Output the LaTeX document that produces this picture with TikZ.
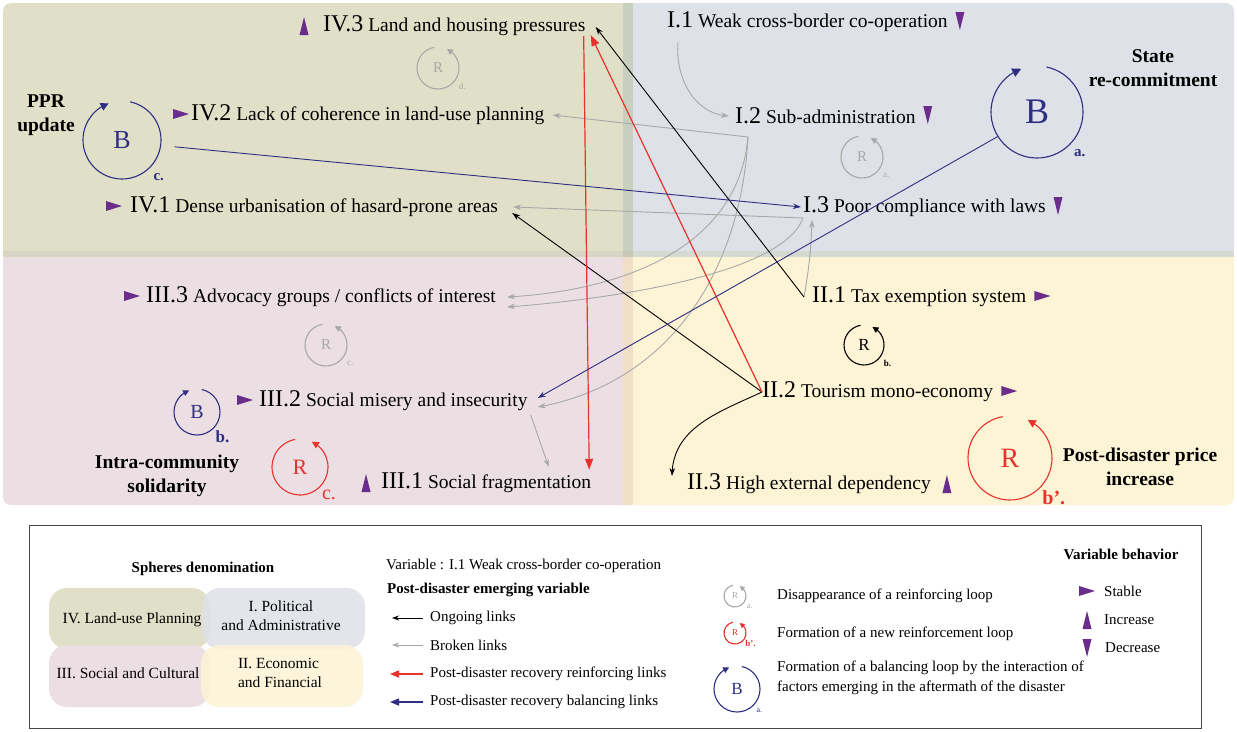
\documentclass[tikz,border=0pt]{standalone}
\usepackage{fontspec}
\setmainfont{Liberation Serif}
\usetikzlibrary{arrows.meta,calc,bending}
\definecolor{olv}{HTML}{E0E0C8}
\definecolor{blg}{HTML}{DEE1E7}
\definecolor{pnk}{HTML}{ECDFE3}
\definecolor{ylw}{HTML}{FDF3D5}
\definecolor{purp}{HTML}{6B2D8B}
\definecolor{navy}{HTML}{2F2E83}
\definecolor{rdl}{HTML}{E8322B}
\definecolor{gryl}{HTML}{A8A8A8}
\newcommand\pre[1]{{\fontsize{24}{24}\selectfont #1}}
\newcommand\Rloop[6]{%
  \node[circle,inner sep=0,minimum size=2*#3,text=#4,font=\fontsize{#5}{#5}\selectfont] (#1) at #2 {R};
  \draw[#4,line width=1.1pt,-{Triangle[length=#6pt,width=#6pt,flex]}] ($(#1)+(100:#3)$) arc[start angle=100,end angle=425,radius=#3];}
\newcommand\Bloop[6]{%
  \node[circle,inner sep=0,minimum size=2*#3,text=#4,font=\fontsize{#5}{#5}\selectfont] (#1) at #2 {B};
  \draw[#4,line width=1.1pt,-{Triangle[length=#6pt,width=#6pt,flex]}] ($(#1)+(78:#3)$) arc[start angle=78,end angle=-250,radius=#3];}
\tikzset{
  var/.style={anchor=west,inner sep=0,font=\fontsize{19.5}{22}\selectfont},
  bold/.style={align=center,inner sep=0,font=\fontsize{19.5}{24}\selectfont\bfseries},
  leg/.style={anchor=west,inner sep=0,font=\fontsize{15}{19.5}\selectfont},
  lnk/.style={line width=0.9pt,-{Stealth[length=8pt,width=5.5pt]}},
  blk/.style={lnk,black},
  grylnk/.style={lnk,gryl},
  rdlnk/.style={line width=1.2pt,rdl,-{Triangle[length=11pt,width=8pt]}},
  blulnk/.style={lnk,navy},
  stab/.pic={\fill[purp] (-8,5)--(8,0)--(-8,-5)--cycle;},
  incr/.pic={\fill[purp] (-4.5,-9)--(0,9)--(4.5,-9)--cycle;},
  decr/.pic={\fill[purp] (-4.5,9)--(0,-9)--(4.5,9)--cycle;},
}
\begin{document}
\begin{tikzpicture}[x=1pt,y=1pt]
\useasboundingbox (0,0) rectangle (1237,-731);
% sphere backgrounds
\fill[olv,rounded corners=8] (3,-3) rectangle (633,-257);
\fill[blg,rounded corners=8] (623,-3) rectangle (1234,-257);
\fill[pnk,rounded corners=8] (3,-251) rectangle (633,-505);
\fill[ylw,rounded corners=8] (623,-251) rectangle (1234,-505);
\fill[color={rgb,255:red,201;green,207;blue,190}] (623,-3) rectangle (633,-251);
\fill[color={rgb,255:red,215;green,213;blue,196}] (3,-251) rectangle (623,-257);
\fill[color={rgb,255:red,214;green,216;blue,210}] (633,-251) rectangle (1234,-257);
\fill[color={rgb,255:red,240;green,222;blue,200}] (623,-257) rectangle (633,-505);
\fill[color={rgb,255:red,200;green,200;blue,185}] (623,-251) rectangle (633,-257);

% variables
\node[var] (v43) at (323,-26) {\pre{IV.3} Land and housing pressures};
\node[var] (v42) at (191,-115) {\pre{IV.2} Lack of coherence in land-use planning};
\node[var] (v41) at (130,-207) {\pre{IV.1} Dense urbanisation of hasard-prone areas};
\node[var] (v11) at (667,-22) {\pre{I.1} Weak cross-border co-operation};
\node[var] (v12) at (735,-116) {\pre{I.2} Sub-administration};
\node[var] (v13) at (803,-207) {\pre{I.3} Poor compliance with laws};
\node[var] (v33) at (146,-297) {\pre{III.3} Advocacy groups / conflicts of interest};
\node[var] (v32) at (259,-401) {\pre{III.2} Social misery and insecurity};
\node[var] (v31) at (381,-483) {\pre{III.1} Social fragmentation};
\node[var] (v21) at (812,-297) {\pre{II.1} Tax exemption system};
\node[var] (v22) at (762,-392) {\pre{II.2} Tourism mono-economy};
\node[var] (v23) at (687,-484) {\pre{II.3} High external dependency};

% behaviour markers
\pic at ($(v43.west)+(-19,0)$) {incr};
\pic at ($(v42.west)+(-10,1)$) {stab};
\pic at ($(v41.west)+(-16,1)$) {stab};
\pic at ($(v11.east)+(12,1)$) {decr};
\pic at ($(v12.east)+(12,1)$) {decr};
\pic at ($(v13.east)+(12,1)$) {decr};
\pic at ($(v33.west)+(-14,1)$) {stab};
\pic at ($(v32.west)+(-14,1)$) {stab};
\pic at ($(v31.west)+(-15,0)$) {incr};
\pic at ($(v21.east)+(16,1)$) {stab};
\pic at ($(v22.east)+(16,1)$) {stab};
\pic at ($(v23.east)+(16,0)$) {incr};

% loops
\Rloop{Rd}{(438,-68)}{21}{gryl}{15}{6}
\node[text=gryl,font=\fontsize{9}{9}\selectfont] at ($(Rd.-40)+(8,-5)$) {d.};
\Bloop{Bc}{(122,-140)}{39}{navy}{26}{8}
\node[text=navy,font=\fontsize{15}{15}\selectfont\bfseries] at ($(Bc.-45)+(9,-9)$) {c.};
\Rloop{Ra}{(862,-157)}{21}{gryl}{15}{6}
\node[text=gryl,font=\fontsize{9}{9}\selectfont] at ($(Ra.-40)+(8,-5)$) {a.};
\Bloop{Ba}{(1037,-112)}{46}{navy}{36}{9}
\node[text=navy,font=\fontsize{15}{15}\selectfont\bfseries] at ($(Ba.-45)+(10,-8)$) {a.};
\Rloop{Rc}{(326,-345)}{21}{gryl}{15}{6}
\node[text=gryl,font=\fontsize{9}{9}\selectfont] at ($(Rc.-40)+(8,-5)$) {c.};
\Bloop{Bb}{(197,-412)}{23}{navy}{20}{6}
\node[text=navy,font=\fontsize{17}{17}\selectfont\bfseries] at ($(Bb.-45)+(9,-8)$) {b.};
\Rloop{Rcr}{(300,-467)}{28}{rdl}{22}{7}
\node[text=rdl,font=\fontsize{20}{20}\selectfont] at ($(Rcr.-45)+(9,-8)$) {c.};
\Rloop{Rb}{(864,-345)}{20}{black}{17}{6}
\node[font=\fontsize{9}{9}\selectfont\bfseries] at ($(Rb.-40)+(8,-5)$) {b.};
\Rloop{Rbp}{(1010,-458)}{42}{rdl}{28}{8}
\node[text=rdl,font=\fontsize{20}{20}\selectfont\bfseries] at ($(Rbp.-45)+(14,-10)$) {b’.};

% loop titles
\node[bold] (tPPR) at (46,-115) {PPR\\update};
\node[bold] (tState) at (1153,-68) {State\\re-commitment};
\node[bold] (tIntra) at (167,-476) {Intra-community\\solidarity};
\node[bold] (tPost) at (1140,-467) {Post-disaster price\\increase};

% broken links
\coordinate (c12) at ($(v12.west)+(13,-21)$);
\coordinate (c13) at ($(v13.west)+(0,-11)$);
\draw[grylnk] ($(v11.south west)+(11,-10)$) to[out=-95,in=178] ($(v12.west)+(-6,0)$);
\draw[grylnk] (c12) -- ($(v42.east)+(8,0)$);
\draw[grylnk] (c12) to[out=-95,in=3] ($(v33.east)+(11,0)$);
\draw[grylnk] (c12) to[out=-93,in=10] ($(v32.east)+(10,-6)$);
\draw[grylnk] (c13) -- ($(v41.east)+(15,0)$);
\draw[grylnk] (c13) to[out=-110,in=4,looseness=0.55] ($(v33.east)+(11,-10)$);
\draw[grylnk] ($(v21.west)+(-8,0)$) to[bend right=4] ($(v13.west)+(9,-13)$);
\draw[grylnk] ($(v32.east)+(3,-14)$) -- ($(v32.east)+(21,-66)$);
% ongoing links
\draw[blk] ($(v21.west)+(-8,0)$) -- ($(v43.east)+(10,-1)$);
\draw[blk] (v22.west) -- ($(v41.east)+(14,-6)$);
\draw[blk] (v22.west) to[out=205,in=90] ($(v23.west)+(-15,8)$);
% reinforcing links
\draw[rdlnk] (v22.west) -- ($(v43.east)+(5,-9)$);
\draw[rdlnk] ($(v43.east)+(-2,-10)$) -- ($(v31.north east)+(-2,3)$);
% balancing links
\draw[blulnk] ($(Bc.-10)+(14,0)$) -- ($(v13.west)+(-2,0)$);
\draw[blulnk] (Ba.212) -- ($(v32.east)+(10,3)$);

% legend
\draw[line width=1pt,color={rgb,255:red,70;green,70;blue,70}] (29,-525) rectangle (1201,-728);
\node[font=\fontsize{15}{17}\selectfont\bfseries] (lSph) at (203,-569) {Spheres denomination};
\fill[olv,rounded corners=18] (49,-588) rectangle (210,-649);
\fill[pnk,rounded corners=18] (49,-645) rectangle (210,-707);
\fill[blg,rounded corners=18,fill opacity=0.85] (202,-588) rectangle (365,-649);
\fill[ylw,rounded corners=18,fill opacity=0.85] (201,-645) rectangle (363,-707);
\node[font=\fontsize{15.5}{18}\selectfont] (sIV) at (132,-620) {IV. Land-use Planning};
\node[font=\fontsize{15.5}{19}\selectfont,align=center] (sI) at (281,-616) {I. Political\\and Administrative};
\node[font=\fontsize{15.5}{18}\selectfont] (sIII) at (128,-673) {III. Social and Cultural};
\node[font=\fontsize{15.5}{19}\selectfont,align=left] (sII) at (280,-673) {II. Economic\\and Financial};

\node[leg] (lVar) at (386,-566) {Variable : I.1 Weak cross-border co-operation};
\node[leg,font=\fontsize{15}{17}\selectfont\bfseries] (lPost) at (387,-590) {Post-disaster emerging variable};
\node[leg] (lOn) at (430,-618) {Ongoing links};
\node[leg] (lBr) at (430,-645) {Broken links};
\node[leg] (lRe) at (430,-674) {Post-disaster recovery reinforcing links};
\node[leg] (lBa) at (430,-702) {Post-disaster recovery balancing links};
\draw[line width=1pt,-{Stealth[length=7pt,width=5pt]}] ($(lOn.west)+(-7,0)$) -- ($(lOn.west)+(-38,0)$);
\draw[line width=1pt,gryl,-{Stealth[length=7pt,width=5pt]}] ($(lBr.west)+(-7,0)$) -- ($(lBr.west)+(-38,0)$);
\draw[line width=1.4pt,rdl,-{Triangle[length=9pt,width=7pt]}] ($(lRe.west)+(-7,0)$) -- ($(lRe.west)+(-40,0)$);
\draw[line width=1.4pt,navy,-{Triangle[length=9pt,width=7pt]}] ($(lBa.west)+(-7,0)$) -- ($(lBa.west)+(-40,0)$);

\Rloop{LRa}{(735,-596)}{11}{gryl}{9}{5}
\node[text=gryl,font=\fontsize{8}{8}\selectfont] at ($(LRa.-40)+(6,-3)$) {a.};
\Rloop{LRb}{(735,-633)}{11}{rdl}{9}{5}
\node[text=rdl,font=\fontsize{9}{9}\selectfont\bfseries] at ($(LRb.-40)+(7,-3)$) {b’.};
\Bloop{LBa}{(737,-689)}{23}{navy}{17}{6}
\node[text=navy,font=\fontsize{8}{8}\selectfont] at ($(LBa.-45)+(6,-5)$) {a.};
\node[leg] (lDis) at (777,-596) {Disappearance of a reinforcing loop};
\node[leg] (lNew) at (777,-634) {Formation of a new reinforcement loop};
\node[leg,align=left] (lBal) at (777,-678) {Formation of a balancing loop by the interaction of\\factors emerging in the aftermath of the disaster};

\node[font=\fontsize{15}{17}\selectfont\bfseries] (lBeh) at (1121,-554) {Variable behavior};
\node[leg] (lSt) at (1104,-591) {Stable};
\node[leg] (lIn) at (1104,-620) {Increase};
\node[leg] (lDe) at (1105,-648) {Decrease};
\pic at ($(lSt.west)+(-17,0)$) {stab};
\pic at ($(lIn.west)+(-17,0)$) {incr};
\pic at ($(lDe.west)+(-18,0)$) {decr};
\end{tikzpicture}
\end{document}
